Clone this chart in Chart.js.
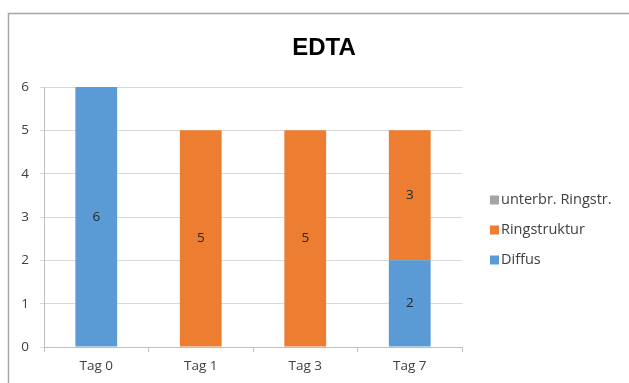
<!DOCTYPE html>
<html>
<head>
<meta charset="utf-8">
<script src="https://cdn.jsdelivr.net/npm/chart.js@4/dist/chart.umd.min.js"></script>
<style>
  html, body { margin: 0; padding: 0; background: #ffffff; }
  #wrap { width: 629px; height: 383px; position: relative; }
</style>
</head>
<body>
<div id="wrap"><canvas id="c" width="629" height="383"></canvas></div>
<script>
// Chart content
const chartTitle = 'EDTA';
const categories = ['Tag 0', 'Tag 1', 'Tag 3', 'Tag 7'];
const seriesNames = ['Diffus', 'Ringstruktur', 'unterbr. Ringstr.'];
const diffus = [6, 0, 0, 2];
const ringstruktur = [0, 5, 5, 3];
const unterbrochen = [0, 0, 0, 0];
const yTicks = [0, 1, 2, 3, 4, 5, 6];

const seriesColors = ['#5B9BD5', '#ED7D31', '#A5A5A5'];
const FONT = "'Open Sans', 'Noto Sans', sans-serif";

// Frame, title, in-bar value labels and the right-hand legend
const decorations = {
  id: 'decorations',
  beforeDraw(chart) {
    const ctx = chart.ctx;
    ctx.save();
    ctx.fillStyle = '#ffffff';
    ctx.fillRect(0, 0, chart.width, chart.height);
    ctx.strokeStyle = '#a6a6a6';
    ctx.lineWidth = 1.5;
    ctx.beginPath();
    ctx.moveTo(8.5, chart.height);
    ctx.lineTo(8.5, 13.5);
    ctx.lineTo(chart.width, 13.5);
    ctx.stroke();
    ctx.restore();
  },
  afterDraw(chart) {
    const ctx = chart.ctx;
    ctx.save();
    // title
    ctx.fillStyle = '#000000';
    ctx.font = "bold 24px 'Liberation Sans', Arial, sans-serif";
    ctx.textAlign = 'center';
    ctx.textBaseline = 'middle';
    ctx.fillText(chartTitle, 324, 48);

    // values inside each bar segment
    ctx.font = '13.5px ' + FONT;
    ctx.fillStyle = '#262626';
    chart.data.datasets.forEach((ds, di) => {
      const meta = chart.getDatasetMeta(di);
      meta.data.forEach((bar, i) => {
        const v = ds.data[i];
        if (!v) return;
        const p = bar.getProps(['x', 'y', 'base'], true);
        ctx.fillText(String(v), p.x, (p.y + p.base) / 2);
      });
    });

    // legend, stacked order from top
    ctx.font = '14.5px ' + FONT;
    ctx.textAlign = 'left';
    const items = chart.data.datasets.map((ds) => ({ label: ds.label, color: ds.backgroundColor })).reverse();
    items.forEach((it, k) => {
      const y = 200 + k * 30;
      ctx.fillStyle = it.color;
      ctx.fillRect(490, y - 4.5, 9, 9);
      ctx.fillStyle = '#404040';
      ctx.fillText(it.label, 501, y);
    });
    ctx.restore();
  }
};

const seriesValues = [diffus, ringstruktur, unterbrochen];

new Chart(document.getElementById('c'), {
  type: 'bar',
  data: {
    labels: categories,
    datasets: seriesNames.map((name, i) => ({
      label: name,
      data: seriesValues[i],
      backgroundColor: seriesColors[i],
      borderWidth: 0,
      categoryPercentage: 1.0,
      barPercentage: 0.4
    }))
  },
  options: {
    responsive: false,
    animation: false,
    devicePixelRatio: 1,
    layout: { padding: { top: 87, left: 9, right: 167, bottom: 0 } },
    plugins: {
      legend: { display: false },
      title: { display: false },
      tooltip: { enabled: false }
    },
    scales: {
      x: {
        stacked: true,
        offset: true,
        grid: {
          offset: true,
          drawOnChartArea: false,
          drawTicks: true,
          tickLength: 5,
          color: '#bfbfbf',
          lineWidth: 1
        },
        border: { display: true, color: '#bfbfbf', width: 1 },
        ticks: { color: '#404040', font: { family: FONT, size: 13.5 }, padding: 6 },
        afterFit(scale) { scale.height = 36; }
      },
      y: {
        stacked: true,
        min: 0,
        max: 6,
        afterBuildTicks(scale) { scale.ticks = yTicks.map((v) => ({ value: v })); },
        grid: {
          color: '#d9d9d9',
          lineWidth: 1,
          drawTicks: true,
          tickLength: 4
        },
        border: { display: true, color: '#bfbfbf', width: 1 },
        ticks: { color: '#404040', font: { family: FONT, size: 13.5 }, padding: 11 },
        afterFit(scale) { scale.width = 35; }
      }
    }
  },
  plugins: [decorations]
});
</script>
</body>
</html>
